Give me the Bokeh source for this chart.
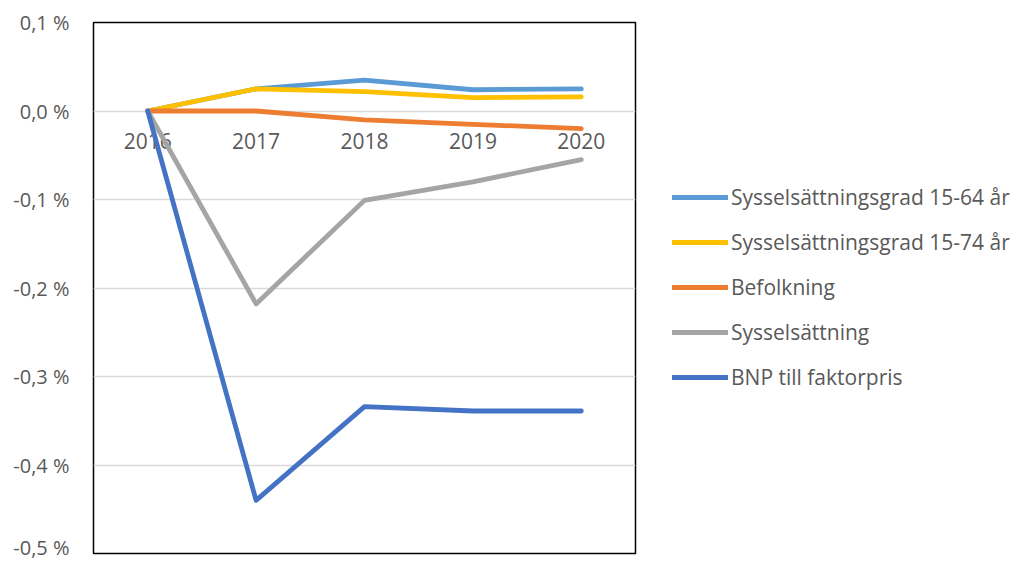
from bokeh.plotting import figure
from bokeh.models import Range1d, FixedTicker, CustomJSTickFormatter, Legend, LegendItem, ColumnDataSource
from bokeh.core.properties import value
from bokeh.embed import file_html
from bokeh.resources import INLINE

years = ["2016", "2017", "2018", "2019", "2020"]
syss_grad_15_64 = [0.0, 0.025, 0.035, 0.024, 0.025]
syss_grad_15_74 = [0.0, 0.025, 0.022, 0.015, 0.016]
befolkning = [0.0, 0.0, -0.010, -0.015, -0.020]
sysselsattning = [0.0, -0.218, -0.101, -0.080, -0.055]
bnp = [0.0, -0.440, -0.334, -0.339, -0.339]
y_ticks = [-0.5, -0.4, -0.3, -0.2, -0.1, 0.0, 0.1]

series = [
    ("Sysselsättningsgrad 15-64 år", syss_grad_15_64, "#5B9BD5"),
    ("Sysselsättningsgrad 15-74 år", syss_grad_15_74, "#FFC000"),
    ("Befolkning", befolkning, "#ED7D31"),
    ("Sysselsättning", sysselsattning, "#A5A5A5"),
    ("BNP till faktorpris", bnp, "#4472C4"),
]

FONT = "Open Sans"
TXT = "#595959"

p = figure(frame_width=542, frame_height=531, x_range=years, y_range=Range1d(-0.5, 0.1),
           output_backend="svg", toolbar_location=None,
           min_border_left=93, min_border_top=22, min_border_bottom=7, min_border_right=370)

p.outline_line_color = "black"
p.outline_line_width = 1.5
p.background_fill_color = "white"
p.border_fill_color = "white"

p.xaxis.visible = False
p.xgrid.visible = False
p.ygrid.grid_line_color = "#d9d9d9"
p.ygrid.grid_line_width = 1.5

p.yaxis.ticker = FixedTicker(ticks=y_ticks)
p.yaxis.formatter = CustomJSTickFormatter(code="return tick.toFixed(1).replace('.', ',').replace('-0,0','0,0') + ' %';")
p.yaxis.axis_line_color = None
p.yaxis.major_tick_line_color = None
p.yaxis.minor_tick_line_color = None
p.yaxis.major_label_text_font = FONT
p.yaxis.major_label_text_font_size = "20px"
p.yaxis.major_label_text_color = TXT
p.yaxis.major_label_standoff = 18

# x labels along the zero line
src = ColumnDataSource(dict(x=years, y=[0.0] * len(years), t=years))
p.text(x="x", y="y", text="t", source=src, text_align="center", text_baseline="middle",
       y_offset=30, text_font=value(FONT), text_font_size="21px", text_color=TXT)

items = []
for name, vals, col in series:
    r = p.line(years, vals, line_color=col, line_width=4.8, line_cap="round", line_join="round")
    items.append(LegendItem(label=name, renderers=[r]))

legend = Legend(items=items, location=(37, 162), glyph_width=56, glyph_height=22,
                label_height=22, spacing=17, label_standoff=3, padding=0, margin=0,
                border_line_color=None, background_fill_alpha=0,
                label_text_font=FONT, label_text_font_size="21px", label_text_color=TXT)
p.add_layout(legend, "right")

open("out.html", "w").write(file_html(p, INLINE))
